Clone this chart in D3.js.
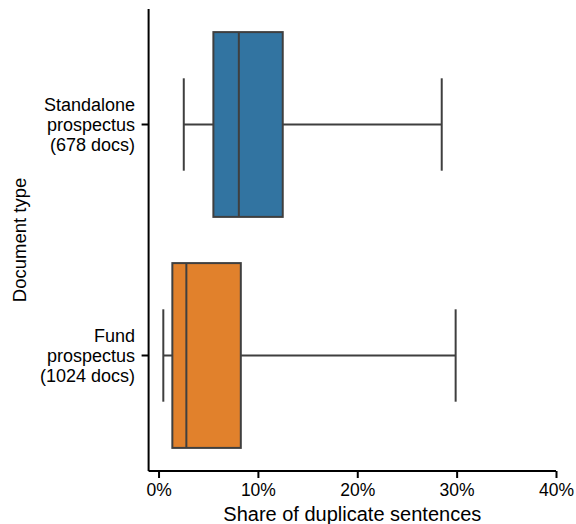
<!DOCTYPE html>
<html>
<head>
<meta charset="utf-8">
<script src="https://cdn.jsdelivr.net/npm/d3@7"></script>
<style>
  body { margin: 0; background: #fff; }
  svg { display: block; font-family: "Liberation Sans", Arial, sans-serif; }
</style>
</head>
<body>
<div id="chart"></div>
<script>
// Box stats per document type (share of duplicate sentences)
const categories = ['Standalone', 'Fund'];
const labelLines = [
    ['Standalone', 'prospectus', '(678 docs)'],
    ['Fund', 'prospectus', '(1024 docs)']
];
const whiskerLow = [0.0254, 0.0048];
const q1 = [0.0552, 0.0139];
const medians = [0.0808, 0.0280];
const q3 = [0.1250, 0.0828];
const whiskerHigh = [0.2850, 0.2990];
const colors = ['#3274a1', '#e1812c'];
const xTicks = [0, 0.1, 0.2, 0.3, 0.4];

const W = 576, H = 524;
const lineColor = '#3f3f3f';

const svg = d3.select('#chart').append('svg')
    .attr('width', W).attr('height', H);

const x = d3.scaleLinear().domain([-0.01, 0.40]).range([148.6, 556]);
const y = d3.scaleBand().domain(categories).range([9, 471])
    .paddingInner(0.2).paddingOuter(0.1);

const bw = y.bandwidth();

const boxes = svg.append('g').selectAll('g')
    .data(categories)
    .join('g');

boxes.each(function (c, i) {
    const g = d3.select(this);
    const top = y(c);
    const mid = top + bw / 2;
    // whisker line
    g.append('line')
        .attr('x1', x(whiskerLow[i])).attr('x2', x(whiskerHigh[i]))
        .attr('y1', mid).attr('y2', mid)
        .attr('stroke', lineColor).attr('stroke-width', 2);
    // caps
    [whiskerLow[i], whiskerHigh[i]].forEach(v => {
        g.append('line')
            .attr('x1', x(v)).attr('x2', x(v))
            .attr('y1', mid - bw / 4).attr('y2', mid + bw / 4)
            .attr('stroke', lineColor).attr('stroke-width', 2);
    });
    // box
    g.append('rect')
        .attr('x', x(q1[i])).attr('y', top)
        .attr('width', x(q3[i]) - x(q1[i])).attr('height', bw)
        .attr('fill', colors[i])
        .attr('stroke', lineColor).attr('stroke-width', 2);
    // median
    g.append('line')
        .attr('x1', x(medians[i])).attr('x2', x(medians[i]))
        .attr('y1', top).attr('y2', top + bw)
        .attr('stroke', lineColor).attr('stroke-width', 2);
});

// x axis
const xAxis = svg.append('g')
    .attr('transform', `translate(0, 471)`)
    .call(d3.axisBottom(x).tickValues(xTicks).tickFormat(d3.format('.0%'))
        .tickSize(7).tickPadding(6));
xAxis.select('.domain').attr('d', `M${x.range()[0]},0H${x.range()[1]}`)
    .attr('stroke', '#000').attr('stroke-width', 2);
xAxis.selectAll('.tick line').attr('stroke', '#000').attr('stroke-width', 2);
xAxis.selectAll('.tick text').attr('font-size', 17.5).attr('fill', '#000')
    .attr('font-family', '"Liberation Sans", Arial, sans-serif');

// y axis
const yAxis = svg.append('g')
    .attr('transform', `translate(148.6, 0)`)
    .call(d3.axisLeft(y).tickSize(7).tickFormat(''));
yAxis.select('.domain').attr('d', `M0,9V471`)
    .attr('stroke', '#000').attr('stroke-width', 2);
yAxis.selectAll('.tick line').attr('stroke', '#000').attr('stroke-width', 2);

categories.forEach((c, i) => {
    const mid = y(c) + bw / 2;
    const t = svg.append('text')
        .attr('text-anchor', 'end')
        .attr('font-size', 18)
        .attr('fill', '#000');
    labelLines[i].forEach((ln, k) => {
        t.append('tspan')
            .attr('x', 135)
            .attr('y', mid + (k - 1) * 19.8)
            .attr('dy', '0.35em')
            .text(ln);
    });
});

// axis titles
svg.append('text')
    .attr('x', (x.range()[0] + x.range()[1]) / 2)
    .attr('y', 521)
    .attr('text-anchor', 'middle')
    .attr('font-size', 20)
    .attr('fill', '#000')
    .text('Share of duplicate sentences');

svg.append('text')
    .attr('transform', `translate(26, 240) rotate(-90)`)
    .attr('text-anchor', 'middle')
    .attr('font-size', 18.5)
    .attr('fill', '#000')
    .text('Document type');
</script>
</body>
</html>
